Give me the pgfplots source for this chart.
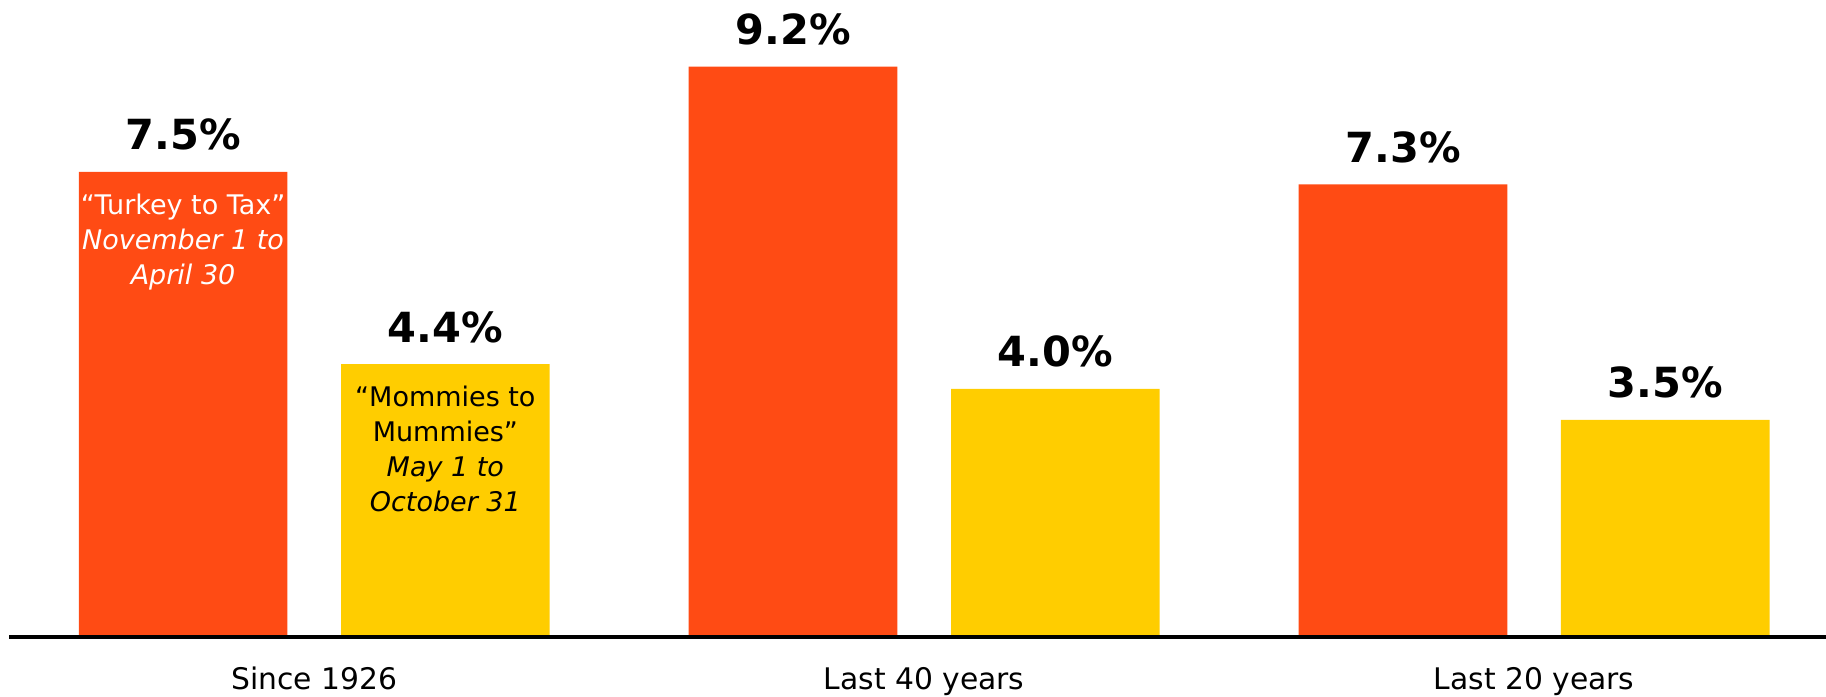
\documentclass[border=0pt]{standalone}
\usepackage{pgfplots}
\pgfplotsset{compat=1.18}
\usepackage{fontspec}
\setmainfont{DejaVu Sans}
\usetikzlibrary{calc}
\definecolor{turkey}{HTML}{FF4B14}
\definecolor{mummy}{HTML}{FFCD00}

\begin{document}
\begin{tikzpicture}
\begin{axis}[
  scale only axis, width=726.7pt, height=254.8pt,
  xmin=-0.5, xmax=2.4785, ymin=0, ymax=10.274,
  axis x line=bottom, axis y line=none,
  x axis line style={line width=1.5pt, black, -},
  xtick={0,1,2}, xticklabels={Since 1926, Last 40 years, Last 20 years},
  major tick length=0pt, ytick=\empty,
  xticklabel style={anchor=base, yshift=-20.9pt, inner sep=0pt,
    font=\fontsize{11.9}{13}\selectfont},
  ybar, bar width=0.342, bar shift=0pt,
  clip=false, axis on top,
  nodes near coords={\pgfmathprintnumber[fixed,fixed zerofill,precision=1,assume math mode=true]{\pgfplotspointmeta}\%},
  every node near coord/.append style={anchor=base, yshift=8.8pt, inner sep=0pt,
    font=\fontsize{16.6}{19}\selectfont\bfseries, text=black},
]
\addplot[fill=turkey, draw=none] coordinates {(-0.215,7.5) (0.785,9.2) (1.785,7.3)};
\addplot[fill=mummy, draw=none] coordinates {(0.215,4.4) (1.215,4.0) (2.215,3.5)};

% labels written inside the first pair of bars
\tikzset{inbar/.style={anchor=base, inner sep=0pt, font=\fontsize{10.8}{14}\selectfont}}
\node[inbar, text=white, yshift=-17pt] at (axis cs:-0.215,7.5) {“Turkey to Tax”};
\node[inbar, text=white, yshift=-31pt] at (axis cs:-0.215,7.5) {\itshape November 1 to};
\node[inbar, text=white, yshift=-45pt] at (axis cs:-0.215,7.5) {\itshape April 30};
\node[inbar, text=black, yshift=-17pt] at (axis cs:0.215,4.4) {“Mommies to};
\node[inbar, text=black, yshift=-31pt] at (axis cs:0.215,4.4) {Mummies”};
\node[inbar, text=black, yshift=-45pt] at (axis cs:0.215,4.4) {\itshape May 1 to};
\node[inbar, text=black, yshift=-59pt] at (axis cs:0.215,4.4) {\itshape October 31};
\end{axis}
\pgfresetboundingbox
\path ($(current axis.south west)+(-3.7pt,-23.6pt)$) rectangle (current axis.north east);
\end{tikzpicture}
\end{document}
